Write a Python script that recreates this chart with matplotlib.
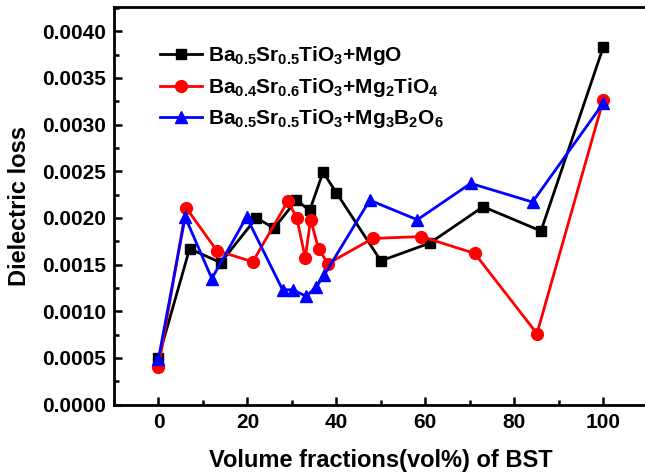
import matplotlib
matplotlib.use("Agg")
import matplotlib.pyplot as plt
from matplotlib.ticker import MultipleLocator, FormatStrFormatter

plt.rcParams['font.family'] = ['Liberation Sans', 'DejaVu Sans']
plt.rcParams['font.weight'] = 'bold'
plt.rcParams['mathtext.fontset'] = 'custom'
plt.rcParams['mathtext.rm'] = 'Liberation Sans:bold'
plt.rcParams['mathtext.bf'] = 'Liberation Sans:bold'
plt.rcParams['mathtext.it'] = 'Liberation Sans:bold'
plt.rcParams['mathtext.default'] = 'rm'

# Data
x_mgo = [0, 7, 14, 22, 26, 31, 34, 37, 40, 50, 61, 73, 86, 100]
y_mgo = [0.00050, 0.00167, 0.00152, 0.00200, 0.00189, 0.00219, 0.00208, 0.00249,
         0.00227, 0.00154, 0.00173, 0.00212, 0.00186, 0.00383]

x_mg2 = [0, 6.2, 13.1, 21.2, 29.1, 31.1, 33.0, 34.2, 36.0, 38.1, 48.2, 59.1, 71.1, 85.1, 100]
y_mg2 = [0.00040, 0.00211, 0.00165, 0.00153, 0.00218, 0.00200, 0.00157, 0.00198,
         0.00167, 0.00151, 0.00178, 0.00180, 0.00162, 0.00076, 0.00326]

x_mg3 = [0, 6.0, 12.0, 19.8, 27.9, 30.2, 33.2, 35.5, 37.3, 47.5, 58.2, 70.2, 84.1, 100]
y_mg3 = [0.00049, 0.00201, 0.00135, 0.00201, 0.00123, 0.00123, 0.00116, 0.00126,
         0.00139, 0.00219, 0.00198, 0.00237, 0.00217, 0.00323]

labels = [r'Ba$_{0.5}$Sr$_{0.5}$TiO$_{3}$+MgO',
          r'Ba$_{0.4}$Sr$_{0.6}$TiO$_{3}$+Mg$_{2}$TiO$_{4}$',
          r'Ba$_{0.5}$Sr$_{0.5}$TiO$_{3}$+Mg$_{3}$B$_{2}$O$_{6}$']

fig = plt.figure(figsize=(6.45, 4.75), dpi=100)
ax = fig.add_axes([114/645, 70.5/475, (647.7-114)/645, (404.5-6.7)/475])

ax.plot(x_mgo, y_mgo, color='black', lw=2, marker='s', ms=7.5, label=labels[0])
ax.plot(x_mg2, y_mg2, color='red', lw=2, marker='o', ms=8.5, label=labels[1])
ax.plot(x_mg3, y_mg3, color='blue', lw=2, marker='^', ms=9, label=labels[2])

ax.set_xlim(-10, 110)
ax.set_ylim(0, 0.004264)
ax.xaxis.set_major_locator(MultipleLocator(20))
ax.xaxis.set_minor_locator(MultipleLocator(10))
ax.yaxis.set_major_locator(MultipleLocator(0.0005))
ax.yaxis.set_minor_locator(MultipleLocator(0.00025))
ax.yaxis.set_major_formatter(FormatStrFormatter('%.4f'))

ax.tick_params(which='both', direction='in', width=1.8, top=False, right=False)
ax.tick_params(which='major', length=6, labelsize=15, pad=6)
ax.tick_params(which='minor', length=3.5)
for lab in ax.get_xticklabels() + ax.get_yticklabels():
    lab.set_fontweight('bold')
for s in ax.spines.values():
    s.set_linewidth(2)
ax.spines['right'].set_visible(False)

ax.set_xlabel('Volume fractions(vol%) of BST', fontsize=17, fontweight='bold', labelpad=12)
ax.set_ylabel('Dielectric loss', fontsize=17, fontweight='bold', labelpad=8)

leg = ax.legend(loc='upper left', bbox_to_anchor=(0.086, 0.905), frameon=False,
                fontsize=15, handlelength=2.0, handletextpad=0.3, labelspacing=0.4,
                borderpad=0, borderaxespad=0)

fig.savefig('out.png', dpi=100)
